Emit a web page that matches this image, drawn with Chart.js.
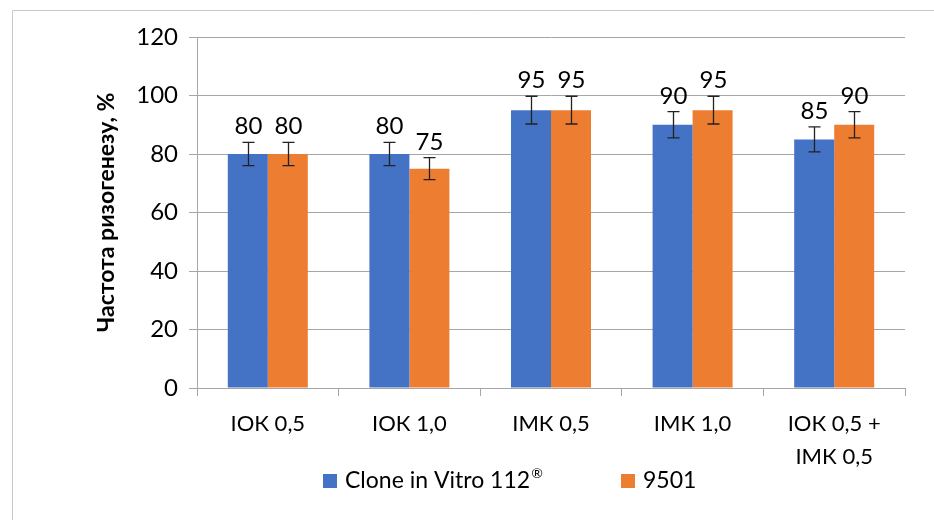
<!DOCTYPE html>
<html>
<head>
<meta charset="utf-8">
<script src="https://cdn.jsdelivr.net/npm/chart.js@4"></script>
<style>
  html, body { margin: 0; padding: 0; background: #fff; }
  #wrap { width: 934px; height: 520px; position: relative; }
</style>
</head>
<body>
<div id="wrap"><canvas id="rhizoChart" width="934" height="520"></canvas></div>
<script>
// дані
const categories = ['ІОК 0,5', 'ІОК 1,0', 'ІМК 0,5', 'ІМК 1,0', ['ІОК 0,5 +', 'ІМК 0,5']];
const seriesNames = ['Clone in Vitro 112®', '9501'];
const cloneValues = [80, 80, 95, 90, 85];
const v9501Values = [80, 75, 95, 95, 90];
const cloneErrors = [4, 4, 4.75, 4.5, 4.25];
const v9501Errors = [4, 3.75, 4.75, 4.75, 4.5];
const yTicks = [0, 20, 40, 60, 80, 100, 120];

const FONT = 'Lato, "Noto Sans", sans-serif';
const GRID = '#a6a6a6';

// рамка навколо діаграми
const framePlugin = {
    id: 'frame',
    beforeDraw(chart) {
        const ctx = chart.ctx;
        ctx.save();
        ctx.strokeStyle = '#c8c8c8';
        ctx.lineWidth = 1;
        ctx.beginPath();
        ctx.moveTo(12.5, 530);
        ctx.lineTo(12.5, 10.5);
        ctx.lineTo(940, 10.5);
        ctx.stroke();
        ctx.restore();
    }
};

// планки похибок + підписи значень
const errorBarPlugin = {
    id: 'errorBars',
    afterDatasetsDraw(chart) {
        const ctx = chart.ctx;
        const y = chart.scales.y;
        chart.data.datasets.forEach((ds, i) => {
            const meta = chart.getDatasetMeta(i);
            meta.data.forEach((bar, j) => {
                const v = ds.data[j];
                const e = ds.errors[j];
                const top = y.getPixelForValue(v + e);
                const bot = y.getPixelForValue(v - e);
                const x = Math.round(bar.x) + 0.5;
                ctx.save();
                ctx.strokeStyle = '#222';
                ctx.lineWidth = 1.3;
                ctx.beginPath();
                ctx.moveTo(x, top); ctx.lineTo(x, bot);
                ctx.moveTo(x - 6, top); ctx.lineTo(x + 6, top);
                ctx.moveTo(x - 6, bot); ctx.lineTo(x + 6, bot);
                ctx.stroke();
                ctx.fillStyle = '#000';
                ctx.font = '24px ' + FONT;
                ctx.textAlign = 'center';
                ctx.textBaseline = 'alphabetic';
                ctx.fillText(String(v), x, top - 8);
                ctx.restore();
            });
        });
    }
};

// легенда внизу (позиції як в оригіналі)
const legendPlugin = {
    id: 'bottomLegend',
    afterDraw(chart) {
        const ctx = chart.ctx;
        const boxX = [323, 621];
        ctx.save();
        ctx.font = '23px ' + FONT;
        ctx.textBaseline = 'alphabetic';
        chart.data.datasets.forEach((ds, i) => {
            ctx.fillStyle = ds.backgroundColor;
            ctx.fillRect(boxX[i], 474, 14, 14);
            ctx.fillStyle = '#000';
            const parts = ds.label.split('®');
            let tx = boxX[i] + 22;
            ctx.font = '23px ' + FONT;
            ctx.fillText(parts[0], tx, 488);
            if (parts.length > 1) {
                tx += ctx.measureText(parts[0]).width + 1;
                ctx.font = '14px ' + FONT;
                ctx.fillText('®', tx, 478);
            }
        });
        ctx.restore();
    }
};

new Chart(document.getElementById('rhizoChart').getContext('2d'), {
    type: 'bar',
    data: {
        labels: categories,
        datasets: [
            {
                label: seriesNames[0],
                data: cloneValues,
                errors: cloneErrors,
                backgroundColor: '#4472C4',
                categoryPercentage: 0.565,
                barPercentage: 1
            },
            {
                label: seriesNames[1],
                data: v9501Values,
                errors: v9501Errors,
                backgroundColor: '#ED7D31',
                categoryPercentage: 0.565,
                barPercentage: 1
            }
        ]
    },
    options: {
        responsive: false,
        animation: false,
        layout: { padding: { left: 0, top: 37, right: 29, bottom: 42 } },
        plugins: {
            tooltip: { enabled: false },
            legend: { display: false }
        },
        scales: {
            x: {
                grid: { display: true, drawOnChartArea: false, color: GRID, tickLength: 8, offset: true },
                border: { color: GRID, width: 1 },
                ticks: {
                    color: '#000',
                    padding: 12,
                    maxRotation: 0,
                    autoSkip: false,
                    font: { family: FONT, size: 22, lineHeight: 1.47 }
                },
                afterFit(s) { s.height = 90; }
            },
            y: {
                min: 0,
                max: 120,
                afterBuildTicks(s) { s.ticks = yTicks.map(v => ({ value: v })); },
                grid: { color: GRID, tickLength: 8 },
                border: { color: GRID, width: 1 },
                ticks: {
                    color: '#000',
                    padding: 11,
                    font: { family: FONT, size: 24 }
                },
                title: {
                    display: true,
                    text: 'Частота ризогенезу, %',
                    color: '#000',
                    padding: { top: 93, bottom: 0 },
                    font: { family: FONT, size: 23, weight: 'bold' }
                },
                afterFit(s) { s.width = 197; }
            }
        }
    },
    plugins: [framePlugin, errorBarPlugin, legendPlugin]
});
</script>
</body>
</html>
